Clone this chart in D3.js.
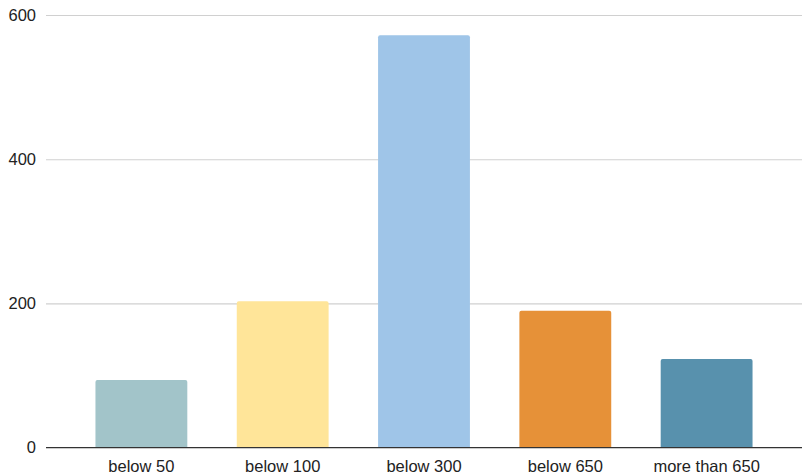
<!DOCTYPE html>
<html>
<head>
<meta charset="utf-8">
<script src="https://cdn.jsdelivr.net/npm/d3@7"></script>
<style>
  body { margin: 0; background: #fff; }
  text { font-family: "Liberation Sans", Arial, sans-serif; }
</style>
</head>
<body>
<div id="viz"></div>
<script>
'use strict';

const categories = ["below 50", "below 100", "below 300", "below 650", "more than 650"];
const counts = [94, 203, 572, 190, 123];
const barColors = ["#a2c4c9", "#ffe599", "#9fc5e8", "#e69138", "#5891ad"];
const yTicks = [0, 200, 400, 600];

const width = 802;
const height = 475;
const margin = {top: 15, right: 0, bottom: 27, left: 46};

const svg = d3.select("#viz")
    .append("svg")
    .attr("width", width)
    .attr("height", height);

let x = d3.scaleBand()
    .domain(categories)
    .range([margin.left, width - margin.right])
    .paddingInner(0.35)
    .paddingOuter(0.35);

let y = d3.scaleLinear()
    .domain([0, 600])
    .range([height - margin.bottom - 0.3, margin.top]);

// gridlines + y labels
let yAxis = svg.append("g")
    .attr("transform", `translate(${margin.left},0)`)
    .call(d3.axisLeft(y).tickValues(yTicks).tickSize(-(width - margin.left)).tickPadding(10));
yAxis.select(".domain").remove();
yAxis.selectAll(".tick line")
    .attr("stroke", d => d === 0 ? "none" : "#d0d0d0")
    .attr("stroke-width", 1.2);
yAxis.selectAll(".tick text")
    .attr("fill", "#222")
    .style("font-size", "16.5px");

// bars with slightly rounded top corners
const r = 2;
svg.append("g").selectAll("path")
    .data(categories)
    .enter()
    .append("path")
    .attr("fill", (d, i) => barColors[i])
    .attr("d", (d, i) => {
        let x0 = x(d), x1 = x(d) + x.bandwidth();
        let y0 = y(0), y1 = y(counts[i]);
        return `M${x0},${y0}V${y1 + r}Q${x0},${y1} ${x0 + r},${y1}` +
               `H${x1 - r}Q${x1},${y1} ${x1},${y1 + r}V${y0}Z`;
    });

// baseline + category labels
let xAxis = svg.append("g")
    .attr("transform", `translate(0,${y(0)})`)
    .call(d3.axisBottom(x).tickSize(0).tickPadding(12.5));
xAxis.select(".domain")
    .attr("stroke", "#333")
    .attr("stroke-width", 1.3)
    .attr("d", `M${margin.left},0H${width}`);
xAxis.selectAll(".tick text")
    .attr("fill", "#222")
    .style("font-size", "16.5px");
</script>
</body>
</html>
